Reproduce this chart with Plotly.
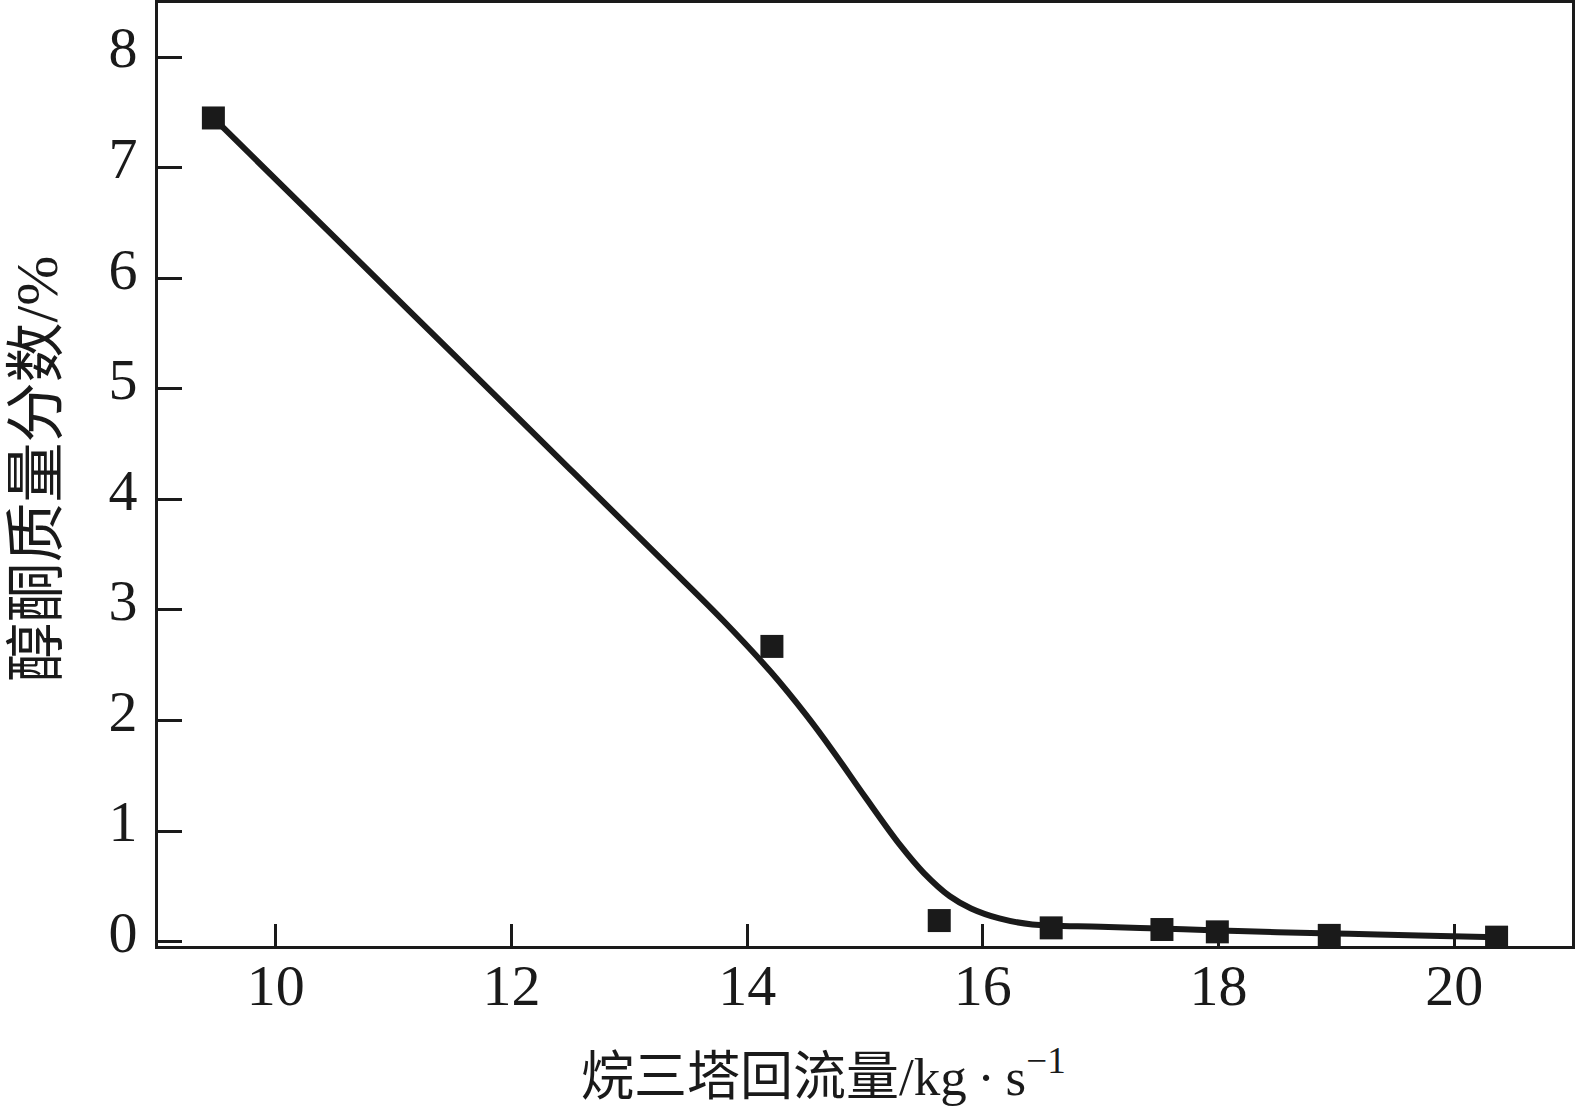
import plotly.graph_objects as go

# measured data points
x_pts = [9.47, 14.21, 15.63, 16.58, 17.52, 17.99, 18.94, 20.36]
y_pts = [7.45, 2.67, 0.19, 0.124, 0.109, 0.088, 0.056, 0.04]

# fitted curve
x_fit = [9.47, 10.5, 11.5, 12.5, 13.3, 13.8, 14.2, 14.5, 14.73, 15.0, 15.3, 15.5, 15.72,
         15.9, 16.14, 16.42, 17.0, 17.5, 18.0, 18.5, 19.11, 19.7, 20.36]
y_fit = [7.45, 6.37, 5.32, 4.27, 3.43, 2.90, 2.44, 2.05, 1.72, 1.31, 0.87, 0.62, 0.41,
         0.30, 0.21, 0.155, 0.135, 0.118, 0.10, 0.085, 0.07, 0.055, 0.04]

x_ticks = [10, 12, 14, 16, 18, 20]
y_ticks = [0, 1, 2, 3, 4, 5, 6, 7, 8]

x_title = "烷三塔回流量/kg\u202f·\u202fs<sup>−1</sup>"
y_title = "醇酮质量分数/%"

FONT = "Liberation Serif, Times New Roman, Noto Sans CJK SC, serif"

fig = go.Figure()
fig.add_trace(go.Scatter(x=x_fit, y=y_fit, mode="lines",
                         line=dict(color="#1a1a1a", width=6, shape="spline", smoothing=1.0),
                         showlegend=False, hoverinfo="skip"))
fig.add_trace(go.Scatter(x=x_pts, y=y_pts, mode="markers",
                         marker=dict(symbol="square", size=23, color="#1a1a1a"),
                         showlegend=False))

axis_common = dict(showgrid=False, zeroline=False, showline=True, linecolor="#1a1a1a",
                   linewidth=3, mirror=True, ticks="inside", tickcolor="#1a1a1a",
                   tickwidth=3, automargin=False,
                   tickfont=dict(family=FONT, size=58, color="#1a1a1a"))

fig.update_xaxes(range=[9.0, 21.0], tickvals=x_ticks, ticklen=22, ticklabelstandoff=-14,
                 **axis_common)
fig.update_yaxes(range=[-0.04, 8.49], tickvals=y_ticks, ticklen=24, ticklabelstandoff=6,
                 ticklabelshift=-10, **axis_common)

fig.add_annotation(text=x_title, xref="paper", yref="paper", x=(823 - 157.5) / (1572 - 157.5),
                   y=-(1073 - 946) / (946 - 3), xanchor="center", yanchor="middle",
                   showarrow=False, font=dict(family=FONT, size=53, color="#1a1a1a"))
fig.add_annotation(text=y_title, xref="paper", yref="paper", x=-(157.5 - 36) / (1572 - 157.5),
                   y=(946 - 469) / (946 - 3), xanchor="center", yanchor="middle", textangle=-90,
                   showarrow=False, font=dict(family=FONT, size=60, color="#1a1a1a"))

fig.update_layout(template="none", width=1575, height=1113, plot_bgcolor="white",
                  paper_bgcolor="white",
                  margin=dict(l=157.5, r=3, t=3, b=167, pad=0, autoexpand=False))

fig.write_html("out.html", config={"displayModeBar": False},
               post_script="document.body.style.margin='0';document.body.style.padding='0';")
